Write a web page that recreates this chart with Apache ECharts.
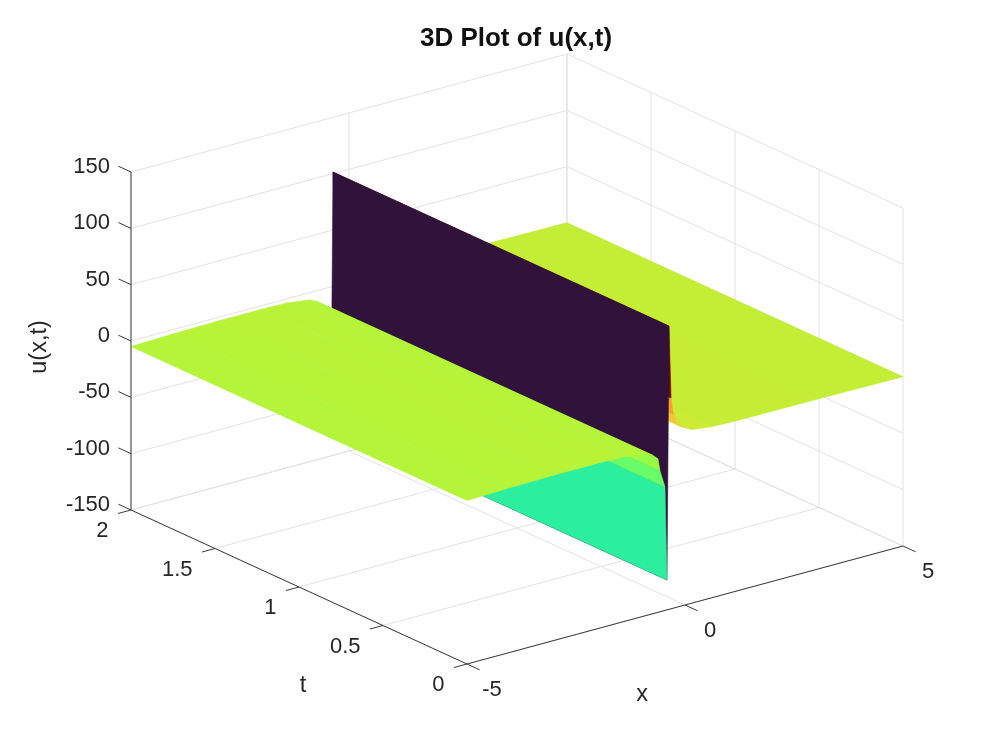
<!DOCTYPE html>
<html>
<head>
<meta charset="utf-8">
<script src="https://cdn.jsdelivr.net/npm/echarts@6/dist/echarts.min.js"></script>
<style>html,body{margin:0;padding:0;background:#fff}#c{width:997px;height:747px}</style>
</head>
<body>
<div id="c"></div>
<script>
// ---- data ----
const xTicks = [-5, 0, 5];
const tTicks = [0, 0.5, 1, 1.5, 2];
const uTicks = [-150, -100, -50, 0, 50, 100, 150];
const xTickLabels = ['-5', '0', '5'];
const tTickLabels = ['0', '0.5', '1', '1.5', '2'];
const uTickLabels = ['-150', '-100', '-50', '0', '50', '100', '150'];
// u(x,t) profile: the surface does not change along t
const profileX = [-5, -4, -3, -2, -1.42, -0.9, -0.734, -0.62, -0.573, -0.459, -0.413, -0.367, -0.321, -0.27, -0.183, -0.07, 0.16, 0.57, 1.1, 3, 5];
const profileU = [-4.9, -3.8, -3.2, -3.2, -3.7, -6.6, -9.6, -13.9, -25, -40.5, -123.5, 101.4, 37, 22, 13.5, 8.7, 4, 2, 1.2, 0.9, 0.2];
const tEnds = [0, 2];
const colorRange = [-122, 101];
const colormap = ['#30123b', '#4145ab', '#4675ed', '#39a2fc', '#1bcfd4', '#24eca6', '#61fc6c', '#a4fc3b', '#d1e834', '#f3c63a', '#fe9b2d', '#f36315', '#d93806', '#b11901', '#7a0402'];

// ---- view (MATLAB style orthographic camera) ----
const view = { ox: 467, oy: 664, xdx: 43.6, xdy: -11.8, tdx: -168, tdy: -77, uScale: 338 / 300 };
function project(x, t, u) {
  return [
    view.ox + (x + 5) * view.xdx + t * view.tdx,
    view.oy + (x + 5) * view.xdy + t * view.tdy - (u + 150) * view.uScale
  ];
}
function cmap(v) {
  const t = Math.max(0, Math.min(1, v)) * (colormap.length - 1);
  const i = Math.min(colormap.length - 2, Math.floor(t));
  return echarts.color.lerp(t - i, [colormap[i], colormap[i + 1]]);
}

// ---- build series data ----
const gridSegs = [];
const xLo = xTicks[0], xHi = xTicks[xTicks.length - 1];
const tLo = tTicks[0], tHi = tTicks[tTicks.length - 1];
const uLo = uTicks[0], uHi = uTicks[uTicks.length - 1];
tTicks.forEach(t => {
  gridSegs.push([xLo, t, uLo, xHi, t, uLo]);
  gridSegs.push([xHi, t, uLo, xHi, t, uHi]);
});
xTicks.forEach(x => {
  gridSegs.push([x, tLo, uLo, x, tHi, uLo]);
  gridSegs.push([x, tHi, uLo, x, tHi, uHi]);
});
uTicks.forEach(u => {
  gridSegs.push([xLo, tHi, u, xHi, tHi, u]);
  gridSegs.push([xHi, tHi, u, xHi, tLo, u]);
});

const axisSegs = [
  [xLo, tHi, uLo, xLo, tHi, uHi],
  [xLo, tHi, uLo, xLo, tLo, uLo],
  [xLo, tLo, uLo, xHi, tLo, uLo]
];
const tickX = 0.3, tickT = 0.075;
uTicks.forEach(u => axisSegs.push([xLo, tHi, u, xLo, tHi + tickT, u]));
tTicks.forEach(t => axisSegs.push([xLo, t, uLo, xLo - tickX, t, uLo]));
xTicks.forEach(x => axisSegs.push([x, tLo, uLo, x, tLo - tickT, uLo]));

// far cells first so nearer ones paint over them
const cells = [];
for (let i = profileX.length - 2; i >= 0; i--) {
  cells.push([profileX[i], profileU[i], profileX[i + 1], profileU[i + 1]]);
}

const labelColor = '#262626';
const tickFont = '22px "Liberation Sans", Arial, sans-serif';
const nameFont = '23.5px "Liberation Sans", Arial, sans-serif';
const labels = [];
uTicks.forEach((u, i) => {
  const p = project(xLo, tHi, u);
  labels.push({ s: uTickLabels[i], px: p[0] - 21, py: p[1] - 5, align: 'right', font: tickFont });
});
tTicks.forEach((t, i) => {
  const p = project(xLo, t, uLo);
  labels.push({ s: tTickLabels[i], px: p[0] - 22.5, py: p[1] + 21, align: 'right', font: tickFont });
});
xTicks.forEach((x, i) => {
  const p = project(x, tLo, uLo);
  labels.push({ s: xTickLabels[i], px: p[0] + 25, py: p[1] + 26, align: 'center', font: tickFont });
});
labels.push({ s: 'x', px: 642, py: 695, align: 'center', font: nameFont });
labels.push({ s: 't', px: 303, py: 686, align: 'center', font: nameFont });
labels.push({ s: 'u(x,t)', px: 40, py: 347, align: 'center', font: nameFont, rot: Math.PI / 2 });

function segRender(color, width) {
  return function (params, api) {
    const a = api.coord(project(api.value(0), api.value(1), api.value(2)));
    const b = api.coord(project(api.value(3), api.value(4), api.value(5)));
    return {
      type: 'line',
      shape: { x1: a[0], y1: a[1], x2: b[0], y2: b[1] },
      style: { stroke: color, lineWidth: width, fill: null }
    };
  };
}

const chart = echarts.init(document.getElementById('c'));
chart.setOption({
  animation: false,
  backgroundColor: '#ffffff',
  title: {
    text: '3D Plot of u(x,t)',
    left: 511, top: 21, textAlign: 'center',
    textStyle: { fontFamily: '"Liberation Sans", Arial, sans-serif', fontSize: 26, fontWeight: 'bold', color: '#111111' }
  },
  grid: { left: 0, right: 0, top: 0, bottom: 0 },
  xAxis: { type: 'value', min: 0, max: 997, show: false },
  yAxis: { type: 'value', min: 0, max: 747, inverse: true, show: false },
  tooltip: { show: false },
  series: [
    { type: 'custom', name: 'grid', silent: true, clip: false, data: gridSegs, renderItem: segRender('#e2e2e2', 1) },
    {
      type: 'custom', name: 'u(x,t)', silent: true, clip: false, data: cells,
      renderItem: function (params, api) {
        const x0 = api.value(0), u0 = api.value(1), x1 = api.value(2), u1 = api.value(3);
        const pts = [
          project(x0, tEnds[0], u0), project(x1, tEnds[0], u1),
          project(x1, tEnds[1], u1), project(x0, tEnds[1], u0)
        ].map(p => api.coord(p));
        const col = cmap((u0 - colorRange[0]) / (colorRange[1] - colorRange[0]));
        return {
          type: 'polygon',
          shape: { points: pts },
          style: { fill: col, stroke: col, lineWidth: 0.6 }
        };
      }
    },
    { type: 'custom', name: 'axes', silent: true, clip: false, data: axisSegs, renderItem: segRender('#3a3a3a', 1) },
    {
      type: 'custom', name: 'labels', silent: true, clip: false,
      data: labels.map((l, i) => [l.px, l.py, i]),
      renderItem: function (params, api) {
        const l = labels[api.value(2)];
        const p = api.coord([api.value(0), api.value(1)]);
        return {
          type: 'text', x: p[0], y: p[1], rotation: l.rot || 0,
          style: { text: l.s, font: l.font, fill: labelColor, textAlign: l.align, textVerticalAlign: 'middle' }
        };
      }
    }
  ]
});
</script>
</body>
</html>
